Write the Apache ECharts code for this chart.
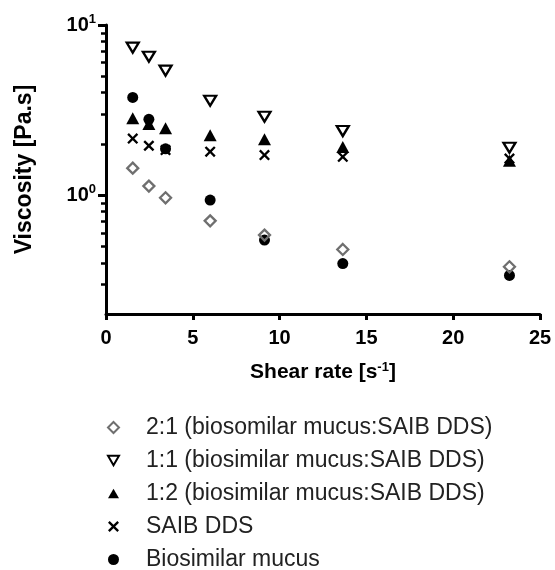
<!DOCTYPE html>
<html><head><meta charset="utf-8">
<script src="https://cdn.jsdelivr.net/npm/echarts@6/dist/echarts.min.js"></script>
<style>html,body{margin:0;padding:0;background:#fff}#c{width:555px;height:570px}</style>
</head><body><div id="c"></div>
<script>
// Shear rate [1/s]
const shearRate = [1.54, 2.47, 3.43, 6.0, 9.13, 13.64, 23.24];
// Viscosity [Pa.s]
const ratio21 = [1.44, 1.13, 0.964, 0.706, 0.582, 0.479, 0.379];
const ratio11 = [7.36, 6.51, 5.39, 3.59, 2.89, 2.38, 1.90];
const ratio12 = [2.83, 2.62, 2.47, 2.25, 2.13, 1.92, 1.59];
const saibDDS = [2.15, 1.95, 1.84, 1.80, 1.72, 1.68, 1.64];
const mucus = [3.75, 2.79, 1.87, 0.935, 0.544, 0.396, 0.337];

const seriesNames = [
  '2:1 (biosomilar mucus:SAIB DDS)',
  '1:1 (biosimilar mucus:SAIB DDS)',
  '1:2 (biosimilar mucus:SAIB DDS)',
  'SAIB DDS',
  'Biosimilar mucus'
];
const yMin = 0.2, yMax = 10;
const yMajorTicks = [1, 10];
const yMinorTicks = [0.3, 0.4, 0.5, 0.6, 0.7, 0.8, 0.9, 2, 3, 4, 5, 6, 7, 8, 9];

const pairs = ys => shearRate.map((x, i) => [x, ys[i]]);
const crossPath = 'path://M1.5,0L5,3.5L8.5,0L10,1.5L6.5,5L10,8.5L8.5,10L5,6.5L1.5,10L0,8.5L3.5,5L0,1.5Z';
const triDownPath = 'path://M0,0L12,0L6,10.4Z';
const triUpPath = 'path://M6,0L12,10.4L0,10.4Z';

const axisFont = 'Liberation Sans, Arial, sans-serif';
// Narrow strips left of the y axis; their split lines (in log10 space) form the log tick marks
const tickGrid = (left, width) => ({left: left, width: width, top: 25, bottom: 256});
const tickXAxis = g => ({gridIndex: g, type: 'value', min: 0, max: 1, show: false});
const tickYAxis = (g, vals, w) => ({
  gridIndex: g,
  type: 'value', min: Math.log10(yMin), max: Math.log10(yMax),
  axisLine: {show: false, onZero: false},
  axisTick: {show: false, customValues: vals.map(Math.log10)},
  axisLabel: {show: false},
  splitLine: {show: true, showMinLine: true, showMaxLine: true, lineStyle: {color: '#000', width: w}}
});
const isPow10 = v => Math.abs(Math.log10(v) - Math.round(Math.log10(v))) < 1e-6;

const chart = echarts.init(document.getElementById('c'), null, {renderer: 'canvas'});
chart.setOption({
  animation: false,
  backgroundColor: '#fff',
  grid: [
    {left: 106, right: 15, top: 25, bottom: 256},
    tickGrid(98, 8),
    tickGrid(101, 5)
  ],
  xAxis: [{
    gridIndex: 0,
    type: 'value', min: 0, max: 25, interval: 5,
    name: '{b|Shear rate [s}{s|-1}{b|]}',
    nameLocation: 'middle', nameGap: 47,
    nameTextStyle: {rich: {
      b: {fontFamily: axisFont, fontWeight: 'bold', fontSize: 21, color: '#000'},
      s: {fontFamily: axisFont, fontWeight: 'bold', fontSize: 13, color: '#000', padding: [0, 0, 10, 0]}
    }},
    axisLine: {onZero: false, lineStyle: {color: '#000', width: 3}},
    axisTick: {length: 6, lineStyle: {color: '#000', width: 3}},
    axisLabel: {color: '#000', fontFamily: axisFont, fontWeight: 'bold', fontSize: 20, margin: 14},
    splitLine: {show: false}
  }, tickXAxis(1), tickXAxis(2)],
  yAxis: [{
    gridIndex: 0,
    type: 'log', logBase: 10, min: yMin, max: yMax,
    name: 'Viscosity [Pa.s]',
    nameLocation: 'middle', nameGap: 70,
    nameTextStyle: {fontFamily: axisFont, fontWeight: 'bold', fontSize: 23, color: '#000'},
    axisLine: {show: true, onZero: false, lineStyle: {color: '#000', width: 3}},
    axisTick: {show: true, length: 8, lineStyle: {color: 'rgba(0,0,0,0)'}},
    axisLabel: {
      margin: 10,
      formatter: v => isPow10(v) ? '{b|10}{s|' + Math.round(Math.log10(v)) + '}' : '',
      rich: {
        b: {fontFamily: axisFont, fontWeight: 'bold', fontSize: 20, color: '#000'},
        s: {fontFamily: axisFont, fontWeight: 'bold', fontSize: 13, color: '#000', padding: [0, 0, 12, 0]}
      }
    },
    splitLine: {show: false}
  },
  tickYAxis(1, yMajorTicks, 3),
  tickYAxis(2, yMinorTicks, 2.5)
  ],
  legend: {
    orient: 'vertical', left: 107, top: 416, height: 170, padding: 0,
    itemWidth: 11, itemHeight: 11, itemGap: 10,
    data: seriesNames,
    textStyle: {fontFamily: axisFont, fontSize: 23, color: '#222', padding: [0, 0, 0, 22]}
  },
  series: [
    {name: seriesNames[4], type: 'scatter', data: pairs(mucus), symbol: 'circle', symbolSize: 11, itemStyle: {color: '#000', opacity: 1}},
    {name: seriesNames[3], type: 'scatter', data: pairs(saibDDS), symbol: crossPath, symbolSize: 11, itemStyle: {color: '#000', opacity: 1}},
    {name: seriesNames[2], type: 'scatter', data: pairs(ratio12), symbol: triUpPath, symbolSize: [13, 12], itemStyle: {color: '#000', opacity: 1}},
    {name: seriesNames[1], type: 'scatter', data: pairs(ratio11), symbol: triDownPath, symbolSize: [12, 10],
      itemStyle: {color: 'rgba(0,0,0,0)', borderColor: '#000', borderWidth: 2.3, opacity: 1}},
    {name: seriesNames[0], type: 'scatter', data: pairs(ratio21), symbol: 'diamond', symbolSize: [11, 11],
      itemStyle: {color: 'rgba(0,0,0,0)', borderColor: '#6f6f6f', borderWidth: 2.3, opacity: 1}}
  ]
});
</script></body></html>
